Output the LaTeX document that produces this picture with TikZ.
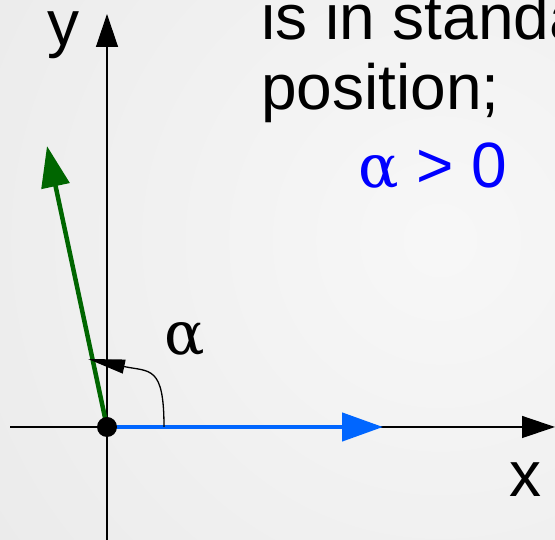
\documentclass[tikz,border=0pt]{standalone}
\usepackage{fontspec}
\setmainfont{Liberation Sans}
\newfontfamily\greekfont{DejaVu Serif}
\usetikzlibrary{arrows.meta}
\definecolor{vecgreen}{RGB}{0,102,0}
\definecolor{vecblue}{RGB}{0,102,255}
\definecolor{txtblue}{RGB}{0,0,255}

\begin{document}
\begin{tikzpicture}[x=1pt, y=1pt,
    axis/.style={line width=1.3pt, -{Triangle[length=33pt, width=22pt]}},
    vector/.style={line width=4.5pt, -{Triangle[length=41pt, width=28pt]}},
    txt/.style={font=\fontsize{64}{70}\selectfont, inner sep=0pt, anchor=base west},
    greek/.style={font=\fontsize{60}{70}\greekfont}]

    % background
    \begin{scope}
        \clip (0,0) rectangle (555,540);
        \shade[inner color=white!97!black, outer color=white!88!black]
            (440,300) circle (1000pt);
    \end{scope}
    \useasboundingbox (0,0) rectangle (555,540);

    \coordinate (O) at (107,113);
    \coordinate (xstart) at (10,113);
    \coordinate (xend) at (555,113);
    \coordinate (ystart) at (107,0);
    \coordinate (yend) at (107,526);

    % axis
    \draw[axis] (xstart) -- (xend);
    \draw[axis] (ystart) -- (yend);
    \node[txt] (xlab) at (509,43) {x};
    \node[txt, text height=34pt] (ylab) at (47,494) {y};

    % vectors
    \coordinate (gtip) at (47,394);
    \coordinate (btip) at (383,113);
    \draw[vector, vecgreen] (O) -- (gtip);
    \draw[vector, vecblue] (O) -- (btip);
    \fill (O) circle (10pt);

    % angle
    \coordinate (arcstart) at (164,113);
    \coordinate (arcend) at (88,181);
    \draw[line width=1.3pt, -{Triangle[length=37pt, width=14pt]}]
        (arcstart) .. controls (164,175) and (150,168) .. (arcend);
    \node[txt, greek] (alpha) at (164,185) {α};

    % text
    \node[txt] (line1) at (261,500) {is in standa};
    \node[txt] (line2) at (261,430) {position;};
    \node[txt, text=txtblue] (cond) at (358,352)
        {{\fontsize{60}{70}\greekfont α} > 0};
\end{tikzpicture}
\end{document}
